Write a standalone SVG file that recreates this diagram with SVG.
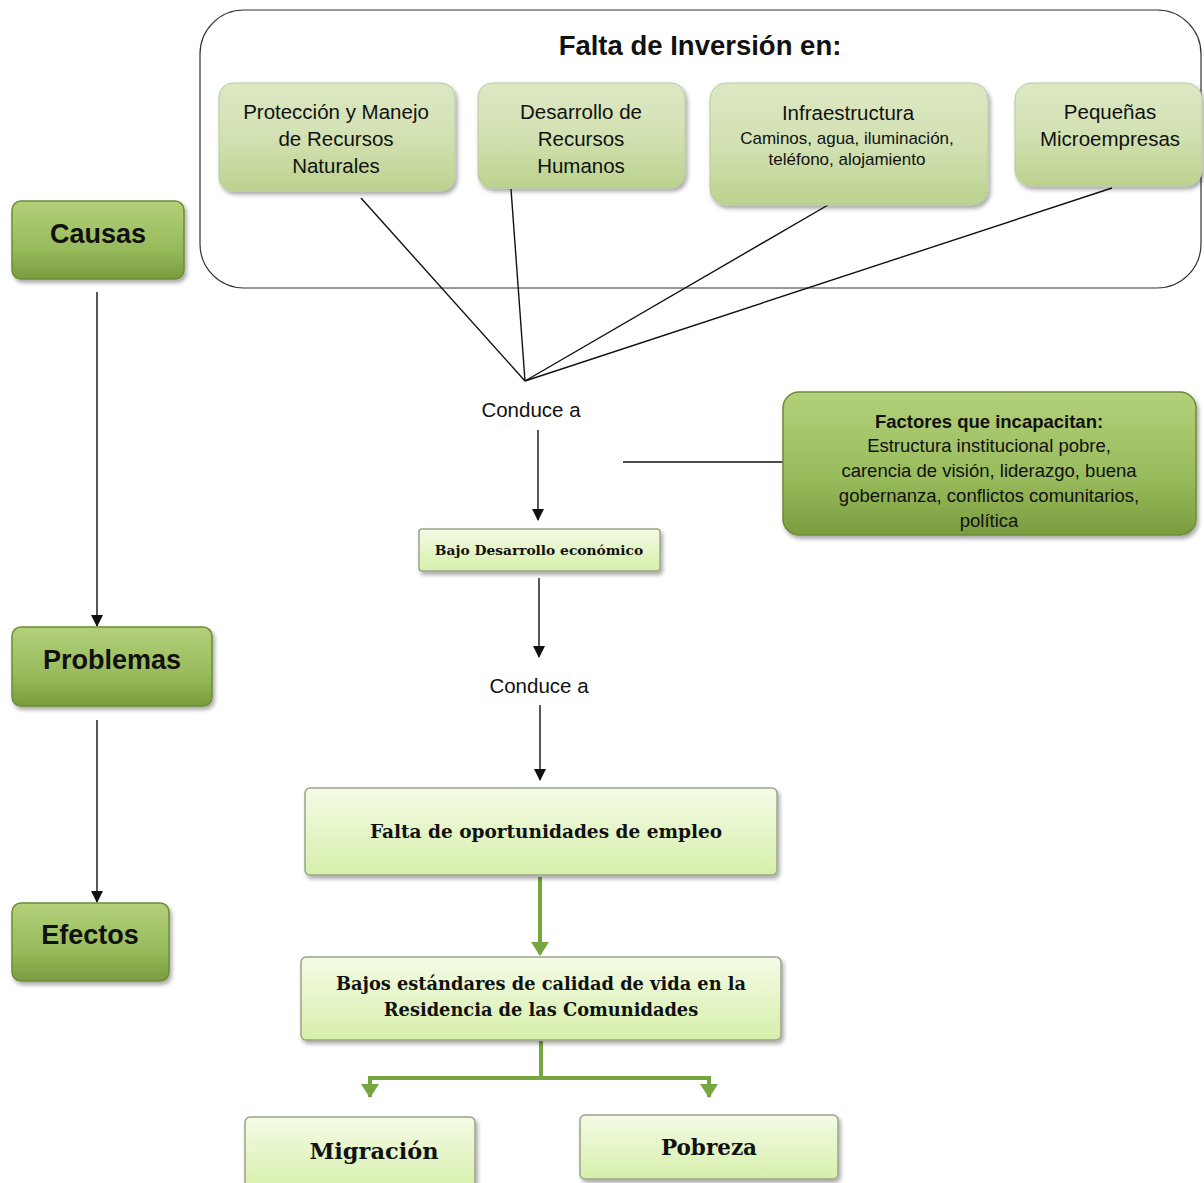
<svg xmlns="http://www.w3.org/2000/svg" width="1204" height="1183" viewBox="0 0 1204 1183">
<style>
.sans{font-family:"Liberation Sans",Arial,sans-serif;fill:#111}
.serif{font-family:"DejaVu Serif","Liberation Serif",serif;font-weight:bold;fill:#111}
.dark{fill:url(#gDark);stroke:#6e8c36;stroke-width:1.5}
.mid{fill:url(#gMid);stroke:#b8c9a0;stroke-width:1}
.light{fill:url(#gLight);stroke:#9aa58a;stroke-width:1.5}
.blk{stroke:#111;stroke-width:1.4;fill:none}
.grn{stroke:#76a640;stroke-width:4;fill:none}
</style>
<defs>
<linearGradient id="gDark" x1="0" y1="0" x2="0" y2="1">
<stop offset="0" stop-color="#b3d07a"/><stop offset="0.6" stop-color="#98bb5c"/><stop offset="1" stop-color="#7a9c3e"/>
</linearGradient>
<linearGradient id="gMid" x1="0" y1="0" x2="0" y2="1">
<stop offset="0" stop-color="#dde8c4"/><stop offset="0.5" stop-color="#d2e1b2"/><stop offset="1" stop-color="#bcd28e"/>
</linearGradient>
<linearGradient id="gLight" x1="0" y1="0" x2="0" y2="1">
<stop offset="0" stop-color="#f4fbe6"/><stop offset="1" stop-color="#d6efaa"/>
</linearGradient>
<filter id="sh" x="-10%" y="-10%" width="125%" height="130%">
<feDropShadow dx="2" dy="3" stdDeviation="2" flood-color="#000" flood-opacity="0.35"/>
</filter>
<marker id="ag" markerWidth="18" markerHeight="14" refX="9" refY="12" orient="0" markerUnits="userSpaceOnUse" viewBox="0 0 18 14">
<path d="M0,0 L18,0 L9,14 Z" fill="#76a640"/>
</marker>
<marker id="ak" markerWidth="12" markerHeight="12" refX="6" refY="11" orient="0" markerUnits="userSpaceOnUse" viewBox="0 0 12 12">
<path d="M0,0 L12,0 L6,12 Z" fill="#111"/>
</marker>
</defs>

<g id="falta-inversion">
<rect x="200" y="10" width="1001" height="278" rx="44" fill="none" stroke="#333" stroke-width="1.2"/>
<text class="sans" x="700" y="55" font-size="27.5" font-weight="bold" text-anchor="middle">Falta de Inversión en:</text>
</g>

<g id="connectors">
<line class="blk" x1="97" y1="292" x2="97" y2="626" marker-end="url(#ak)"/>
<line class="blk" x1="97" y1="720" x2="97" y2="902" marker-end="url(#ak)"/>
<line class="blk" x1="361" y1="198" x2="525" y2="381"/>
<line class="blk" x1="511" y1="189" x2="525" y2="381"/>
<line class="blk" x1="828" y1="205" x2="525" y2="381"/>
<line class="blk" x1="1112" y1="188" x2="525" y2="381"/>
<line class="blk" x1="538" y1="430" x2="538" y2="520" marker-end="url(#ak)"/>
<line class="blk" x1="623" y1="462" x2="784" y2="462"/>
<line class="blk" x1="539" y1="578" x2="539" y2="657" marker-end="url(#ak)"/>
<line class="blk" x1="540" y1="705" x2="540" y2="780" marker-end="url(#ak)"/>
<line class="grn" x1="540" y1="877" x2="540" y2="954" marker-end="url(#ag)"/>
<path class="grn" d="M541,1041 V1078 M370,1097 V1078 H709 V1097"/>
<line class="grn" x1="370" y1="1080" x2="370" y2="1096" marker-end="url(#ag)"/>
<line class="grn" x1="709" y1="1080" x2="709" y2="1096" marker-end="url(#ag)"/>
</g>

<g id="causas">
<rect class="dark" x="12" y="201" width="172" height="78" rx="9" filter="url(#sh)"/>
<text class="sans" x="98" y="243" font-size="27" font-weight="bold" text-anchor="middle">Causas</text>
</g>
<g id="problemas">
<rect class="dark" x="12" y="627" width="200" height="79" rx="9" filter="url(#sh)"/>
<text class="sans" x="112" y="669" font-size="27" font-weight="bold" text-anchor="middle">Problemas</text>
</g>
<g id="efectos">
<rect class="dark" x="12" y="903" width="157" height="78" rx="9" filter="url(#sh)"/>
<text class="sans" x="90" y="944" font-size="27" font-weight="bold" text-anchor="middle">Efectos</text>
</g>

<g id="proteccion">
<rect class="mid" x="219" y="83" width="236" height="108" rx="14" filter="url(#sh)"/>
<text class="sans" font-size="20.5" text-anchor="middle"><tspan x="336" y="119">Protección y Manejo</tspan><tspan x="336" y="146">de Recursos</tspan><tspan x="336" y="173">Naturales</tspan></text>
</g>
<g id="desarrollo-rh">
<rect class="mid" x="478" y="83" width="207" height="105" rx="14" filter="url(#sh)"/>
<text class="sans" font-size="20.5" text-anchor="middle"><tspan x="581" y="119">Desarrollo de</tspan><tspan x="581" y="146">Recursos</tspan><tspan x="581" y="173">Humanos</tspan></text>
</g>
<g id="infraestructura">
<rect class="mid" x="710" y="83" width="278" height="122" rx="16" filter="url(#sh)"/>
<text class="sans" font-size="20.5" text-anchor="middle" x="848" y="120">Infraestructura</text>
<text class="sans" font-size="17" text-anchor="middle"><tspan x="847" y="144">Caminos, agua, iluminación,</tspan><tspan x="847" y="165">teléfono, alojamiento</tspan></text>
</g>
<g id="pequenas">
<rect class="mid" x="1015" y="83" width="187" height="103" rx="16" filter="url(#sh)"/>
<text class="sans" font-size="20.5" text-anchor="middle"><tspan x="1110" y="119">Pequeñas</tspan><tspan x="1110" y="146">Microempresas</tspan></text>
</g>

<g id="conduce1">
<text class="sans" x="531" y="417" font-size="20.5" text-anchor="middle">Conduce a</text>
</g>
<g id="factores">
<rect class="dark" x="783" y="392" width="413" height="143" rx="16" filter="url(#sh)"/>
<text class="sans" font-size="18.5" text-anchor="middle"><tspan x="989" y="428" font-weight="bold">Factores que incapacitan:</tspan><tspan x="989" y="452">Estructura institucional pobre,</tspan><tspan x="989" y="477">carencia de visión, liderazgo, buena</tspan><tspan x="989" y="502">gobernanza, conflictos comunitarios,</tspan><tspan x="989" y="527">política</tspan></text>
</g>
<g id="bajo-desarrollo">
<rect class="light" x="419" y="529" width="241" height="42" rx="3" filter="url(#sh)"/>
<text class="serif" x="539" y="555" font-size="13.8" text-anchor="middle">Bajo Desarrollo económico</text>
</g>
<g id="conduce2">
<text class="sans" x="539" y="693" font-size="20.5" text-anchor="middle">Conduce a</text>
</g>
<g id="falta-empleo">
<rect class="light" x="305" y="788" width="472" height="87" rx="5" filter="url(#sh)"/>
<text class="serif" x="546" y="838" font-size="18.5" text-anchor="middle">Falta de oportunidades de empleo</text>
</g>
<g id="bajos-estandares">
<rect class="light" x="301" y="957" width="480" height="83" rx="5" filter="url(#sh)"/>
<text class="serif" font-size="17.8" text-anchor="middle"><tspan x="541" y="990">Bajos estándares de calidad de vida en la</tspan><tspan x="541" y="1016">Residencia de las Comunidades</tspan></text>
</g>
<g id="migracion">
<rect class="light" x="245" y="1117" width="230" height="75" rx="5" filter="url(#sh)"/>
<text class="serif" x="374" y="1159" font-size="22.5" text-anchor="middle">Migración</text>
</g>
<g id="pobreza">
<rect class="light" x="580" y="1115" width="258" height="64" rx="5" filter="url(#sh)"/>
<text class="serif" x="709" y="1155" font-size="21.5" text-anchor="middle">Pobreza</text>
</g>
</svg>
